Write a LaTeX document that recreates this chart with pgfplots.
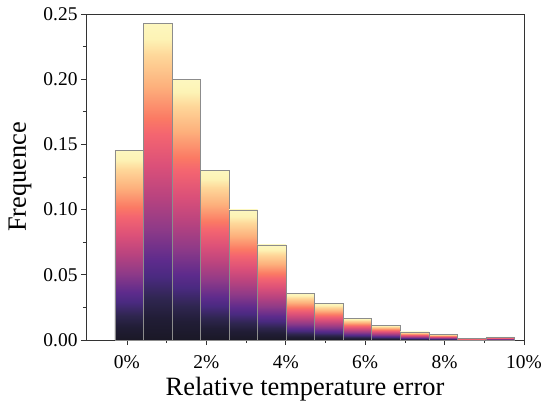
\documentclass[border=0pt]{standalone}
\usepackage{pgfplots}
\pgfplotsset{compat=1.18}
\usepackage{fontspec}
\setmainfont{Liberation Serif}
\definecolor{g0}{HTML}{1A1826}
\definecolor{g1}{HTML}{211D36}
\definecolor{g2}{HTML}{2F2650}
\definecolor{g3}{HTML}{4A2A80}
\definecolor{g4}{HTML}{5D2B8C}
\definecolor{g5}{HTML}{8E3A88}
\definecolor{g6}{HTML}{B8437F}
\definecolor{g7}{HTML}{DB5079}
\definecolor{g8}{HTML}{F46570}
\definecolor{g9}{HTML}{FB7A64}
\definecolor{g10}{HTML}{FDB07C}
\definecolor{g11}{HTML}{FED89A}
\definecolor{g12}{HTML}{FDF3B5}
\definecolor{g13}{HTML}{FDF7BF}
\pgfdeclareverticalshading{magmabar}{100bp}{%
color(0bp)=(g0); color(25bp)=(g0); color(28.5bp)=(g1); color(31.5bp)=(g2);
color(35bp)=(g3); color(37.5bp)=(g4); color(42.5bp)=(g5); color(47.5bp)=(g6);
color(52.5bp)=(g7); color(57.5bp)=(g8); color(60bp)=(g9); color(65bp)=(g10);
color(70bp)=(g11); color(72.5bp)=(g12); color(75bp)=(g13); color(100bp)=(g13)}
\pgfplotstableread{
x y
-0.300 0.1457
0.419 0.2430
1.137 0.2000
1.856 0.1300
2.574 0.0997
3.293 0.0729
4.012 0.0358
4.730 0.0280
5.449 0.0166
6.167 0.0113
6.886 0.0062
7.605 0.0044
8.323 0.0012
9.042 0.0024
9.760 0.0024
}\histdata
\newcommand{\histbar}[2]{\addplot[ybar interval, draw=black!45, line width=0.6pt, shading=magmabar, restrict expr to domain={\coordindex}{#1:#2}] table[x=x,y=y] {\histdata};}
\begin{document}
\begin{tikzpicture}
\path[use as bounding box] (-86bp,-72bp) rectangle (464bp,340bp);
\begin{axis}[
  at={(0,0)}, anchor=south west,
  scale only axis, width=438bp, height=326bp,
  xmin=-1.03, xmax=10, ymin=0, ymax=0.25,
  axis line style={draw=black!80, line width=0.7pt},
  xtick={0,2,4,6,8,10}, minor xtick={1,3,5,7,9},
  ytick={0,0.05,0.10,0.15,0.20,0.25}, minor ytick={0.025,0.075,0.125,0.175,0.225},
  tick align=outside, tick pos=left,
  major tick length=5bp, minor tick length=3bp,
  tick style={draw=black!80, line width=0.7pt},
  xticklabel={\pgfmathprintnumber{\tick}\%},
  yticklabel style={/pgf/number format/fixed, /pgf/number format/fixed zerofill, /pgf/number format/precision=2, /pgf/number format/assume math mode=true},
  xticklabel style={/pgf/number format/assume math mode=true, yshift=-7bp},
  ticklabel style={font=\fontsize{19.5}{22}\selectfont},
  xlabel={Relative temperature error},
  ylabel={Frequence},
  label style={font=\fontsize{26.5}{30}\selectfont},
  xlabel style={at={(axis description cs:0.5,0)}, anchor=base, yshift=-55bp},
  ylabel style={at={(axis description cs:-0.137,0.5)}, anchor=base},
]
\histbar{0}{1}
\histbar{1}{2}
\histbar{2}{3}
\histbar{3}{4}
\histbar{4}{5}
\histbar{5}{6}
\histbar{6}{7}
\histbar{7}{8}
\histbar{8}{9}
\histbar{9}{10}
\histbar{10}{11}
\histbar{11}{12}
\histbar{12}{13}
\histbar{13}{14}
\end{axis}
\end{tikzpicture}
\end{document}
